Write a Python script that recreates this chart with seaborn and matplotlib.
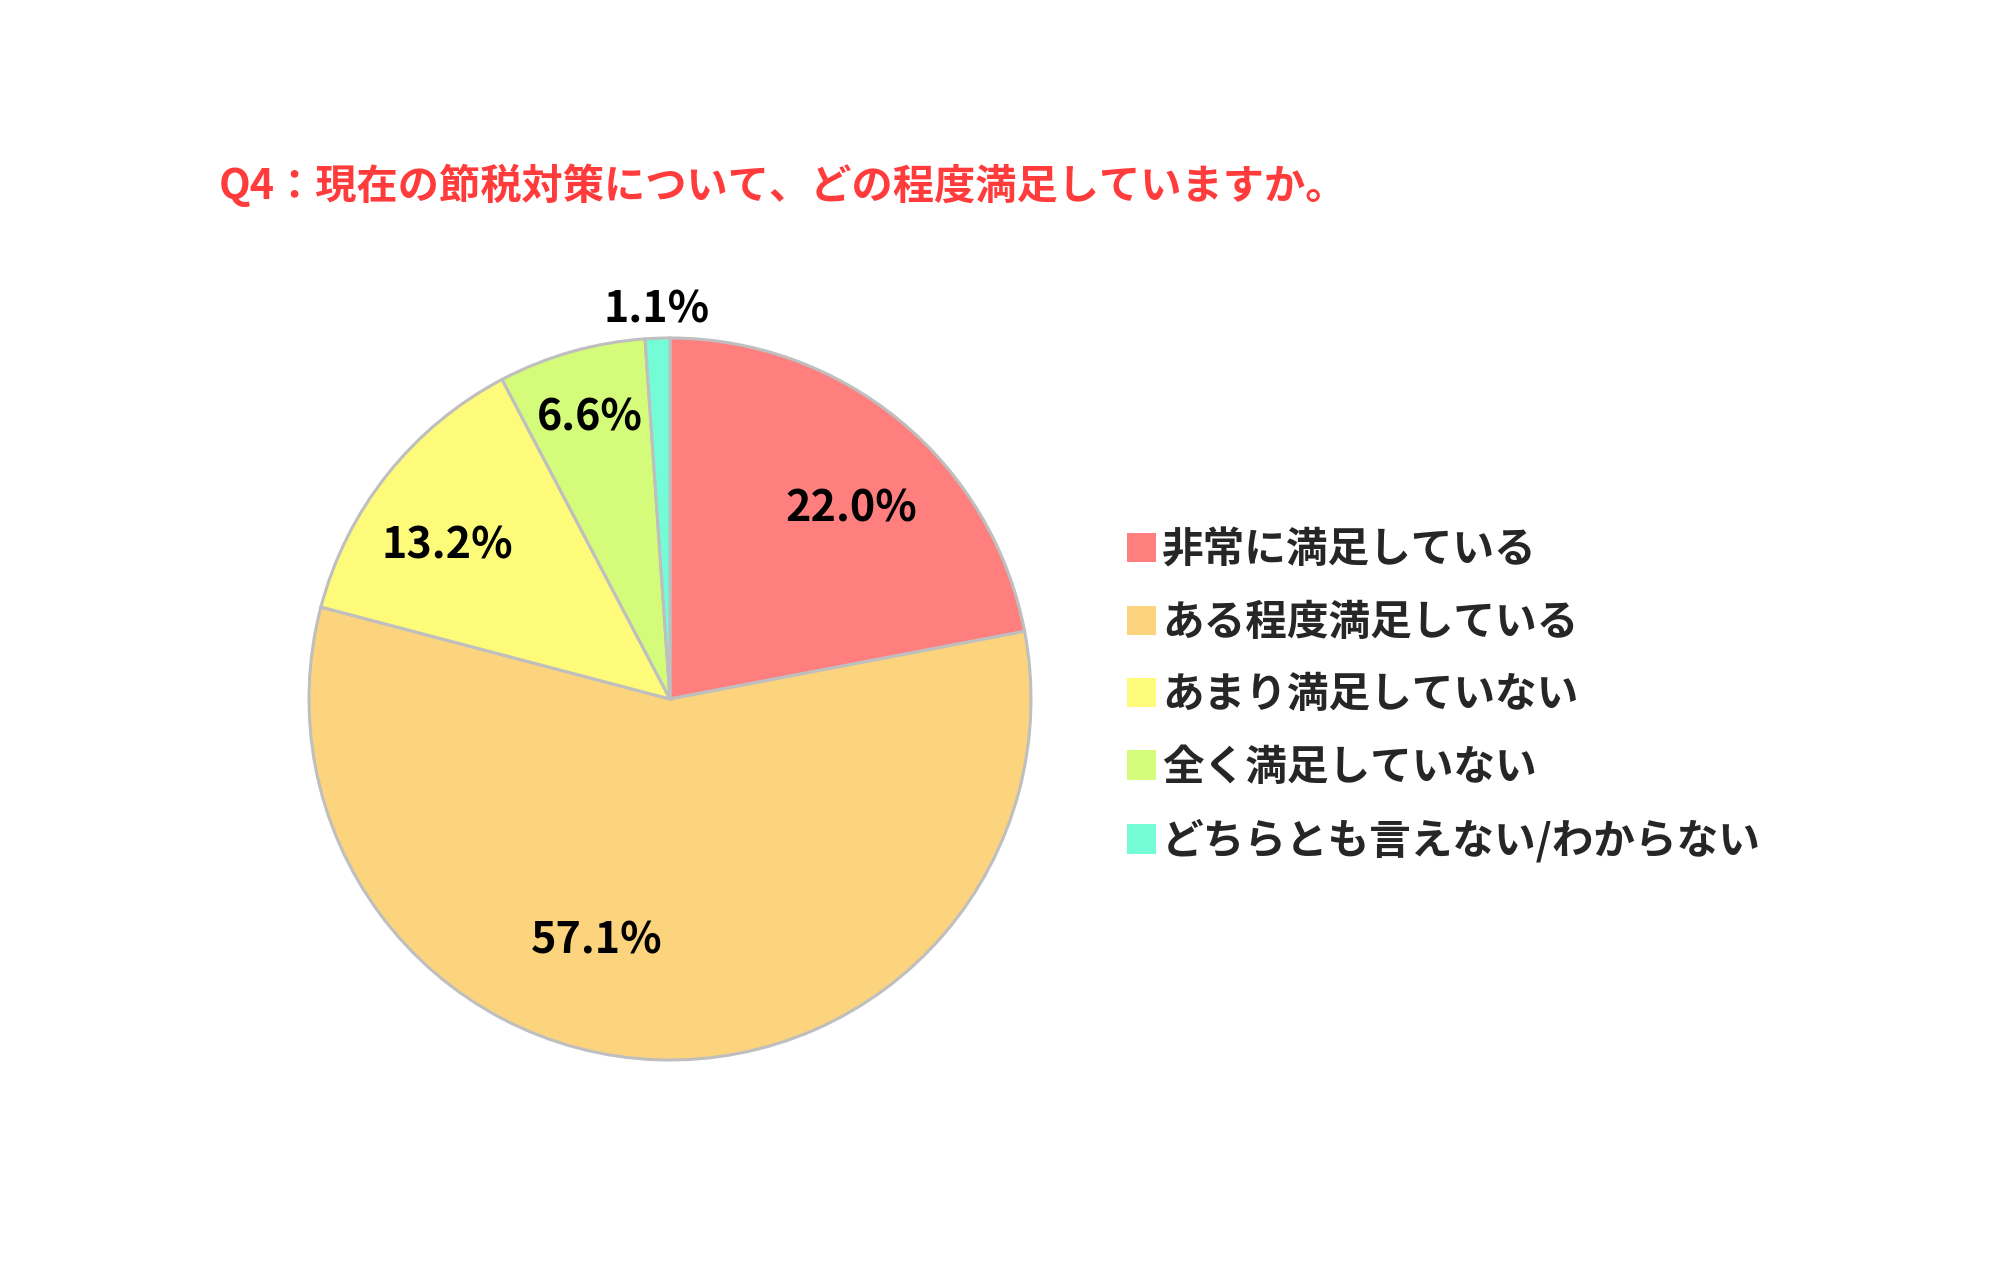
import numpy as np
import matplotlib
matplotlib.use("Agg")
import matplotlib.pyplot as plt
import seaborn as sns

# survey answers (Q4)
labels = ['非常に満足している', 'ある程度満足している', 'あまり満足していない',
          '全く満足していない', 'どちらとも言えない/わからない']
values = [22.0, 57.1, 13.2, 6.6, 1.1]
colors = ['#FF7F7F', '#FDD47E', '#FFFB7A', '#D4FB79', '#73FCD6']

# where each percent label sits (fraction of radius, angle nudge in degrees)
label_r = [0.73, 0.70, 0.75, 0.81, 1.08]
label_nudge = [-4, -15, 4, 0, 0]

sns.set_theme(style="white")
plt.rcParams['font.family'] = ['Noto Sans CJK JP', 'DejaVu Sans']

fig = plt.figure(figsize=(19.93, 12.83), dpi=100)
ax = fig.add_axes([309 / 1993, 223 / 1283, 722 / 1993, 722 / 1283])

wedges, _ = ax.pie(values, colors=colors, startangle=90, counterclock=False,
                   wedgeprops=dict(edgecolor='#BFBFBF', linewidth=2.2))
ax.set_aspect('equal')
ax.set_xlim(-1, 1)
ax.set_ylim(-1, 1)
ax.axis('off')

for w, v, r, d in zip(wedges, values, label_r, label_nudge):
    ang = np.deg2rad((w.theta1 + w.theta2) / 2 + d)
    ax.text(r * np.cos(ang), r * np.sin(ang), f"{v:.1f}%", ha='center', va='center',
            fontsize=31, fontweight='bold', color='black')

fig.text(219 / 1993, 1 - 186 / 1283, 'Q4：現在の節税対策について、どの程度満足していますか。',
         ha='left', va='center', fontsize=29.7, fontweight='bold', color='#FF3B3B')

leg = fig.legend(wedges, labels, loc='center left', bbox_to_anchor=(1106 / 1993, 1 - 696 / 1283),
                 frameon=False, borderpad=0, handlelength=0.7, handleheight=0.7,
                 handletextpad=0.15, labelspacing=0.73,
                 prop={'family': ['Noto Sans CJK JP', 'DejaVu Sans'], 'weight': 'bold', 'size': 30})
for h in leg.legend_handles:
    h.set_edgecolor('none')

fig.savefig('out.png', dpi=100, facecolor='white')
